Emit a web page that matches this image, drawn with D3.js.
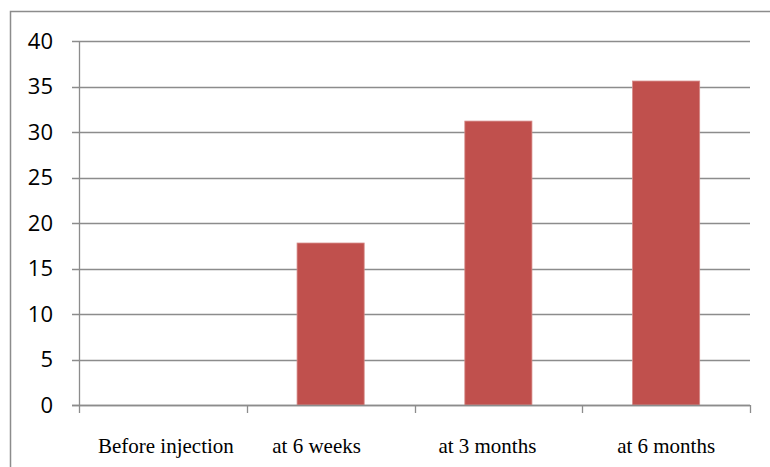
<!DOCTYPE html>
<html>
<head>
<meta charset="utf-8">
<script src="https://cdn.jsdelivr.net/npm/d3@7"></script>
<style>
  html, body { margin: 0; padding: 0; background: #fff; }
  svg { display: block; }
</style>
</head>
<body>
<svg id="chart" width="770" height="467"></svg>
<script>
const categories = ["Before injection", "at 6 weeks", "at 3 months", "at 6 months"];
const values = [0, 17.8, 31.2, 35.6];
const yTicks = [0, 5, 10, 15, 20, 25, 30, 35, 40];

const svg = d3.select("#chart");

// outer chart border
svg.append("rect")
  .attr("x", 10.5).attr("y", 11.5)
  .attr("width", 770).attr("height", 470)
  .attr("fill", "none").attr("stroke", "#8c8c8c").attr("stroke-width", 1.5);

const x = d3.scaleBand()
  .domain(categories)
  .range([79, 750])
  .paddingInner(0.6).paddingOuter(0.3);

const y = d3.scaleLinear().domain([0, 40]).range([405, 41]);

// gridlines
svg.append("g").selectAll("line").data(yTicks).join("line")
  .attr("x1", 72).attr("x2", 750)
  .attr("y1", d => Math.round(y(d)) + 0.5).attr("y2", d => Math.round(y(d)) + 0.5)
  .attr("stroke", "#8c8c8c").attr("stroke-width", 1.3);

// y labels
svg.append("g").selectAll("text").data(yTicks).join("text")
  .attr("x", 53).attr("y", d => y(d))
  .attr("dy", "0.35em")
  .attr("text-anchor", "end")
  .attr("font-family", "'Open Sans', 'Noto Sans', sans-serif")
  .attr("font-size", 22)
  .attr("fill", "#000")
  .text(d => d);

// bars
svg.append("g").selectAll("rect").data(categories).join("rect")
  .attr("x", d => x(d))
  .attr("width", x.bandwidth())
  .attr("y", (d, i) => y(values[i]))
  .attr("height", (d, i) => y(0) - y(values[i]))
  .attr("fill", "#C0504D")
  .attr("stroke", "#d68a88").attr("stroke-width", 0.8);

// y axis line
svg.append("line")
  .attr("x1", 79.5).attr("x2", 79.5).attr("y1", 41).attr("y2", 405)
  .attr("stroke", "#8c8c8c").attr("stroke-width", 1.3);

// x axis
const xa = svg.append("g");
xa.append("line")
  .attr("x1", 72).attr("x2", 750).attr("y1", 405.5).attr("y2", 405.5)
  .attr("stroke", "#8c8c8c").attr("stroke-width", 1.3);
const step = x.step();
const edges = [x.range()[0]].concat(categories.map(c => x(c) - x.paddingInner() * step / 2 + step));
xa.selectAll("line.tick").data(edges).join("line")
  .attr("class", "tick")
  .attr("x1", d => Math.round(d) + 0.5).attr("x2", d => Math.round(d) + 0.5)
  .attr("y1", 405).attr("y2", 413)
  .attr("stroke", "#8c8c8c").attr("stroke-width", 1.3);

// small per-label horizontal nudges (layout only)
const labelNudge = [3, -14, -11, 0];
xa.selectAll("text").data(categories).join("text")
  .attr("x", (d, i) => x(d) + x.bandwidth() / 2 + labelNudge[i])
  .attr("y", 453)
  .attr("text-anchor", "middle")
  .attr("font-family", "'Liberation Serif', 'Times New Roman', serif")
  .attr("font-size", 21)
  .attr("fill", "#000")
  .text(d => d);
</script>
</body>
</html>
